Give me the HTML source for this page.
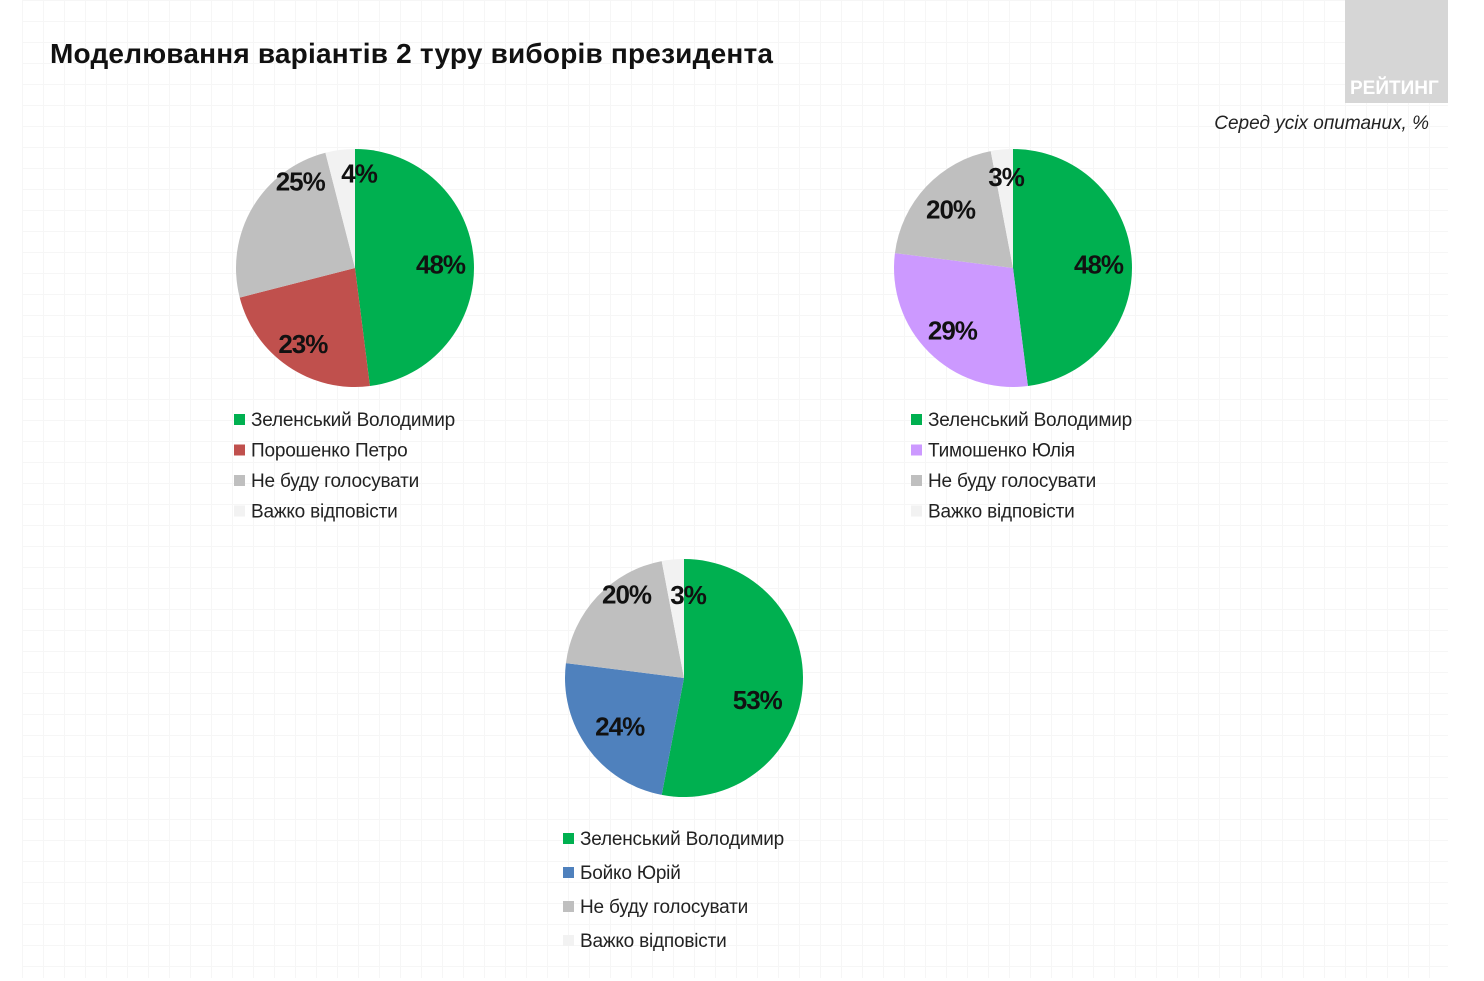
<!DOCTYPE html>
<html><head><meta charset="utf-8">
<style>
html,body{margin:0;padding:0;background:#fff;}
body{width:1484px;height:981px;position:relative;overflow:hidden;font-family:"Liberation Sans Narrow","Liberation Sans","DejaVu Sans",sans-serif;}
.grid{position:absolute;left:22px;top:0;width:1426px;height:978px;
background-image:linear-gradient(#f6f6f6 1px,transparent 1px),linear-gradient(90deg,#f6f6f6 1px,transparent 1px);background-size:21px 21px;}
.title{position:absolute;left:50px;top:38px;font-family:"Liberation Sans",sans-serif;font-weight:bold;font-size:28px;color:#111;letter-spacing:0.2px;}
.logo{position:absolute;left:1345px;top:0;width:103px;height:103px;background:#d6d6d6;}
.logo span{position:absolute;left:5px;top:78px;color:#fff;font-weight:bold;font-size:19px;font-family:"Liberation Sans",sans-serif;}
.sub{position:absolute;right:55px;top:113px;font-style:italic;font-size:19px;color:#222;}
svg{position:absolute;left:0;top:0;}
</style></head>
<body>
<div class="grid"></div>
<div class="title">Моделювання варіантів 2 туру виборів президента</div>
<div class="logo"><span>РЕЙТИНГ</span></div>
<div class="sub">Серед усіх опитаних, %</div>
<svg id="chart" width="1484" height="981"></svg>
<script>
const pie1Labels=["Зеленський Володимир","Порошенко Петро","Не буду голосувати","Важко відповісти"];
const pie1Values=[48,23,25,4];
const pie2Labels=["Зеленський Володимир","Тимошенко Юлія","Не буду голосувати","Важко відповісти"];
const pie2Values=[48,29,20,3];
const pie3Labels=["Зеленський Володимир","Бойко Юрій","Не буду голосувати","Важко відповісти"];
const pie3Values=[53,24,20,3];

const NS="http://www.w3.org/2000/svg";
const svg=document.getElementById('chart');
function mk(t,a){const e=document.createElementNS(NS,t);for(const k in a)e.setAttribute(k,a[k]);svg.appendChild(e);return e;}
const R=119;
function drawPie(cx,cy,values,labels,colors,legX,legY,legStep,name,nudge){
  const total=values.reduce((a,b)=>a+b,0);
  let a0=0;
  values.forEach((v,i)=>{
    const a1=a0+v/total*Math.PI*2;
    const x0=cx+R*Math.sin(a0),y0=cy-R*Math.cos(a0);
    const x1=cx+R*Math.sin(a1),y1=cy-R*Math.cos(a1);
    const large=(a1-a0)>Math.PI?1:0;
    const p=mk('path',{d:`M${cx},${cy}L${x0},${y0}A${R},${R} 0 ${large} 1 ${x1},${y1}Z`,fill:colors[i]});
    
    
    const mid=(a0+a1)/2;
    const rf=(v/total<0.06)?0.8:0.72;
    const t=mk('text',{x:cx+R*rf*Math.sin(mid)+nudge[i][0],y:cy-R*rf*Math.cos(mid)+9+nudge[i][1],'text-anchor':'middle','font-size':26,'font-weight':'bold','letter-spacing':'-1',fill:'#111'});
    t.textContent=v+'%';
    
    
    a0=a1;
    const sw=mk('rect',{x:legX,y:legY+i*legStep-12,width:11,height:11,fill:colors[i]});
    
    
    const lt=mk('text',{x:legX+17,y:legY+i*legStep,'font-size':19,'letter-spacing':'-0.2',fill:'#222'});
    lt.textContent=labels[i];
    
    
  });
}
drawPie(355,268,pie1Values,pie1Labels,['#00b050','#c0504d','#bfbfbf','#f2f2f2'],234,426,30.5,'pie-zelensky-poroshenko',[[0,2],[-4,5],[19,-43],[16,0]]);
drawPie(1013,268,pie2Values,pie2Labels,['#00b050','#cc99ff','#bfbfbf','#f2f2f2'],911,426,30.5,'pie-zelensky-tymoshenko',[[0,2],[0,2],[0,0],[2,4]]);
drawPie(684,678,pie3Values,pie3Labels,['#00b050','#4f81bd','#bfbfbf','#f2f2f2'],563,845,34,'pie-zelensky-boyko',[[-12,14],[5,-2],[5,-25],[13,12]]);
</script>
</body></html>
